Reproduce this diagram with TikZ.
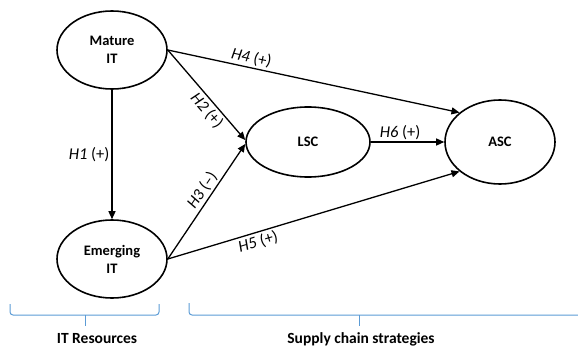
\documentclass[tikz,border=0pt]{standalone}
\usepackage{fontspec}
\setmainfont{Carlito}
\usetikzlibrary{shapes.geometric,arrows.meta}
\tikzset{
  construct/.style={draw, ellipse, line width=1.6pt, inner sep=0pt, align=center,
    font=\fontsize{14.5}{18}\selectfont\bfseries},
  link/.style={line width=1.3pt, -{Triangle[length=8pt,width=7pt]}},
  hyp/.style={font=\fontsize{16.5}{18}\selectfont, inner sep=2pt},
  bracket/.style={draw={rgb,255:red,91;green,155;blue,213}, line width=1pt, rounded corners=3pt},
  grouplabel/.style={font=\fontsize{15.5}{17}\selectfont\bfseries}
}
\begin{document}
\begin{tikzpicture}[x=1pt,y=-1pt]
\useasboundingbox (0,0) rectangle (578,348);
\node[construct, minimum width=110pt, minimum height=78pt] (mat) at (112,50) {Mature\\IT};
\node[construct, minimum width=110pt, minimum height=78pt] (emg) at (112,259) {Emerging\\IT};
\node[construct, minimum width=124pt, minimum height=70pt] (lsc) at (308,142) {LSC};
\node[construct, minimum width=110pt, minimum height=84pt] (asc) at (500,142) {ASC};

\draw[link] (mat) -- node[hyp, left, pos=0.5] {\textit{H1} (+)} (emg);
\draw[link] (mat.east) -- node[hyp, sloped, above, pos=0.28] {\textit{H4} (+)} (asc.144);
\draw[link] (mat.east) -- node[hyp, sloped, below, pos=0.6] {\textit{H2} (+)} ([yshift=2pt]lsc.west);
\draw[link] (emg.east) -- node[hyp, sloped, above, pos=0.55] {\textit{H3} (–)} ([yshift=-2pt]lsc.west);
\draw[link] (emg.east) -- node[hyp, sloped, below, pos=0.3] {\textit{H5} (+)} (asc.216);
\draw[link] (lsc.east) -- node[hyp, above, pos=0.4] {\textit{H6} (+)} (asc.west);

\coordinate (b1l) at (10,304);
\coordinate (b1r) at (159,304);
\coordinate (b1t) at (85,326);
\draw[bracket] (b1l) |- (b1r |- 0,315) -- (b1r);
\draw[bracket] (85,315) -- (b1t);
\coordinate (b2l) at (189,303);
\coordinate (b2t) at (359,326);
\draw[bracket] (b2l) |- (578,315);
\draw[bracket] (359,315) -- (b2t);
\node[grouplabel] (g1) at (97,339) {IT Resources};
\node[grouplabel] (g2) at (361,339) {Supply chain strategies};
\end{tikzpicture}
\end{document}
